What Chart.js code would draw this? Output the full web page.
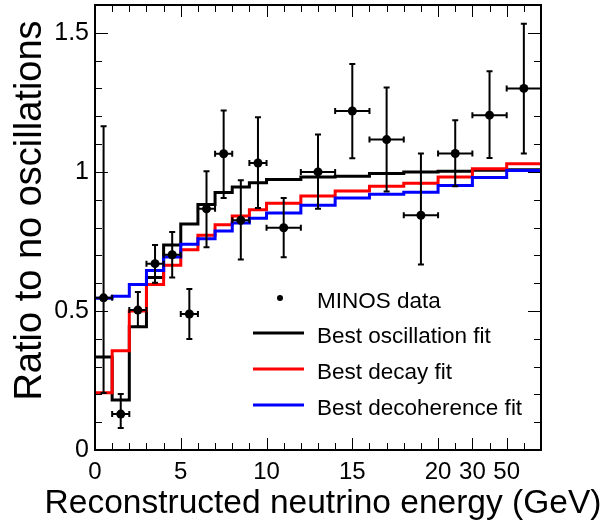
<!DOCTYPE html>
<html>
<head>
<meta charset="utf-8">
<script src="https://cdn.jsdelivr.net/npm/chart.js@4"></script>
<style>
  html, body { margin: 0; padding: 0; background: #fff; }
  canvas { display: block; }
</style>
</head>
<body>
<canvas id="c" width="615" height="526"></canvas>
<script>
// bin edges on the drawn axis; above 20 the axis is squeezed (22 -> 30 GeV, 24 -> 50 GeV)
var binEdges = [0, 1, 2, 3, 4, 5, 6, 7, 8, 9, 10, 12, 14, 16, 18, 20, 22, 24, 26];
var xTickValues = [0, 5, 10, 15, 20, 22, 24];
var xTickLabels = ["0", "5", "10", "15", "20", "30", "50"];
var yTickValues = [0, 0.5, 1, 1.5];
var yTickLabels = ["0", "0.5", "1", "1.5"];

// MINOS data, one point per bin
var dataRatio   = [0.547, 0.129, 0.503, 0.670, 0.702, 0.489, 0.867, 1.065, 0.826, 1.032, 0.799, 1.000, 1.219, 1.116, 0.844, 1.066, 1.204, 1.300];
var dataErrHigh = [1.164, 0.201, 0.568, 0.737, 0.784, 0.579, 1.002, 1.221, 0.970, 1.196, 0.906, 1.134, 1.388, 1.303, 1.066, 1.186, 1.362, 1.533];
var dataErrLow  = [0.205, 0.079, 0.443, 0.601, 0.620, 0.399, 0.729, 0.906, 0.685, 0.870, 0.693, 0.867, 1.049, 0.929, 0.667, 0.948, 1.050, 1.066];

// fit histograms, one value per bin
var oscFit   = [0.334, 0.180, 0.443, 0.620, 0.737, 0.813, 0.883, 0.926, 0.946, 0.961, 0.973, 0.982, 0.984, 0.994, 1.000, 1.002, 1.006, 1.008];
var decayFit = [0.206, 0.357, 0.500, 0.595, 0.664, 0.720, 0.772, 0.810, 0.841, 0.864, 0.887, 0.913, 0.931, 0.948, 0.959, 0.982, 1.011, 1.029];
var decohFit = [0.546, 0.553, 0.595, 0.645, 0.694, 0.740, 0.760, 0.787, 0.816, 0.833, 0.852, 0.880, 0.906, 0.920, 0.927, 0.951, 0.980, 1.005];

var FONT = "'Liberation Sans', Arial, Helvetica, sans-serif";

function stepPoints(vals) {
    var pts = [];
    for (var i = 0; i < vals.length; i++) {
        pts.push({ x: binEdges[i], y: vals[i] });
    }
    pts.push({ x: binEdges[vals.length], y: vals[vals.length - 1] });
    return pts;
}

var dataPoints = [];
for (var i = 0; i < dataRatio.length; i++) {
    dataPoints.push({ x: (binEdges[i] + binEdges[i + 1]) / 2, y: dataRatio[i] });
}

// error bars drawn through the scales
var errorBars = {
    id: "errorBars",
    afterDatasetsDraw: function (chart) {
        var ctx = chart.ctx, xs = chart.scales.x, ys = chart.scales.y;
        var cap = 3;
        ctx.save();
        ctx.strokeStyle = "#000";
        ctx.lineWidth = 2;
        ctx.beginPath();
        for (var i = 0; i < dataRatio.length; i++) {
            var xc = xs.getPixelForValue(dataPoints[i].x);
            var xl = xs.getPixelForValue(binEdges[i]);
            var xr = xs.getPixelForValue(binEdges[i + 1]);
            var y  = ys.getPixelForValue(dataRatio[i]);
            var yt = ys.getPixelForValue(dataErrHigh[i]);
            var yb = ys.getPixelForValue(dataErrLow[i]);
            ctx.moveTo(xc, yt); ctx.lineTo(xc, yb);
            ctx.moveTo(xc - cap, yt); ctx.lineTo(xc + cap, yt);
            ctx.moveTo(xc - cap, yb); ctx.lineTo(xc + cap, yb);
            ctx.moveTo(xl, y); ctx.lineTo(xr, y);
            ctx.moveTo(xl, y - cap); ctx.lineTo(xl, y + cap);
            ctx.moveTo(xr, y - cap); ctx.lineTo(xr, y + cap);
        }
        ctx.stroke();
        ctx.restore();
    }
};

// frame with inward ticks on all four sides, axis titles and the legend
var frameAndLegend = {
    id: "frameAndLegend",
    afterDraw: function (chart) {
        var ctx = chart.ctx, a = chart.chartArea, xs = chart.scales.x, ys = chart.scales.y;
        ctx.save();
        ctx.strokeStyle = "#000";
        ctx.lineWidth = 1;
        ctx.beginPath();
        for (var v = 0; v <= 26; v++) {
            var px = Math.round(xs.getPixelForValue(v)) + 0.5;
            var len = xTickValues.indexOf(v) >= 0 ? 12 : 7;
            ctx.moveTo(px, a.bottom); ctx.lineTo(px, a.bottom - len);
            ctx.moveTo(px, a.top); ctx.lineTo(px, a.top + len);
        }
        for (var k = 0; k <= 16; k++) {
            var py = Math.round(ys.getPixelForValue(k / 10)) + 0.5;
            var ylen = (k % 5 === 0) ? 13 : 7;
            ctx.moveTo(a.left, py); ctx.lineTo(a.left + ylen, py);
            ctx.moveTo(a.right, py); ctx.lineTo(a.right - ylen, py);
        }
        ctx.stroke();
        ctx.lineWidth = 2;
        ctx.strokeRect(a.left, a.top, a.right - a.left, a.bottom - a.top);

        // axis titles
        ctx.fillStyle = "#000";
        ctx.textAlign = "center";
        ctx.textBaseline = "alphabetic";
        ctx.font = "33.5px " + FONT;
        ctx.fillText("Reconstructed neutrino energy (GeV)", (a.left + a.right) / 2 + 5, a.bottom + 63);
        ctx.save();
        ctx.translate(41, (a.top + a.bottom) / 2 - 17);
        ctx.rotate(-Math.PI / 2);
        ctx.font = "38px " + FONT;
        ctx.fillText("Ratio to no oscillations", 0, 0);
        ctx.restore();

        // legend
        var lx = a.left + 158, tx = a.left + 222;
        var rows = [
            { label: "MINOS data", color: "#000", dot: true, y: 298 },
            { label: "Best oscillation fit", color: "#000", y: 333 },
            { label: "Best decay fit", color: "#ff0000", y: 369 },
            { label: "Best decoherence fit", color: "#0000ff", y: 405 }
        ];
        ctx.font = "22.5px " + FONT;
        ctx.textAlign = "left";
        rows.forEach(function (r) {
            if (r.dot) {
                ctx.fillStyle = r.color;
                ctx.beginPath();
                ctx.arc(lx + 27, r.y, 3, 0, Math.PI * 2);
                ctx.fill();
            } else {
                ctx.strokeStyle = r.color;
                ctx.lineWidth = 3;
                ctx.beginPath();
                ctx.moveTo(lx, r.y); ctx.lineTo(lx + 51, r.y);
                ctx.stroke();
            }
            ctx.fillStyle = "#000";
            ctx.fillText(r.label, tx, r.y + 10);
        });
        ctx.restore();
    }
};

function fitSet(label, vals, color, order) {
    return {
        label: label,
        data: stepPoints(vals),
        stepped: true,
        borderColor: color,
        borderWidth: 3,
        pointRadius: 0,
        fill: false,
        order: order
    };
}

new Chart(document.getElementById("c"), {
    type: "line",
    data: {
        datasets: [
            {
                label: "MINOS data",
                data: dataPoints,
                showLine: false,
                pointRadius: 4.5,
                pointBackgroundColor: "#000",
                pointBorderColor: "#000",
                pointBorderWidth: 0,
                order: 0
            },
            fitSet("Best decoherence fit", decohFit, "#0000ff", 1),
            fitSet("Best decay fit", decayFit, "#ff0000", 2),
            fitSet("Best oscillation fit", oscFit, "#000000", 3)
        ]
    },
    options: {
        responsive: false,
        animation: false,
        devicePixelRatio: 1,
        layout: { padding: { top: 5, right: 74, left: 0, bottom: 0 } },
        plugins: { legend: { display: false }, tooltip: { enabled: false } },
        scales: {
            x: {
                type: "linear",
                min: 0,
                max: 26,
                grid: { display: false, drawTicks: false, tickLength: 0 },
                border: { display: false },
                afterBuildTicks: function (s) {
                    s.ticks = xTickValues.map(function (v) { return { value: v }; });
                },
                afterFit: function (s) { s.height = 76; s.paddingLeft = 0; s.paddingRight = 0; },
                ticks: {
                    autoSkip: false,
                    maxRotation: 0,
                    padding: 8,
                    color: "#000",
                    font: { family: FONT, size: 24 },
                    callback: function (v) { return xTickLabels[xTickValues.indexOf(v)]; }
                }
            },
            y: {
                type: "linear",
                min: 0,
                max: 1.6,
                grid: { display: false, drawTicks: false, tickLength: 0 },
                border: { display: false },
                afterBuildTicks: function (s) {
                    s.ticks = yTickValues.map(function (v) { return { value: v }; });
                },
                afterFit: function (s) { s.width = 95; s.paddingTop = 0; s.paddingBottom = 0; },
                ticks: {
                    autoSkip: false,
                    padding: 6,
                    color: "#000",
                    font: { family: FONT, size: 25 },
                    callback: function (v) { return yTickLabels[yTickValues.indexOf(v)]; }
                }
            }
        }
    },
    plugins: [errorBars, frameAndLegend]
});
</script>
</body>
</html>
